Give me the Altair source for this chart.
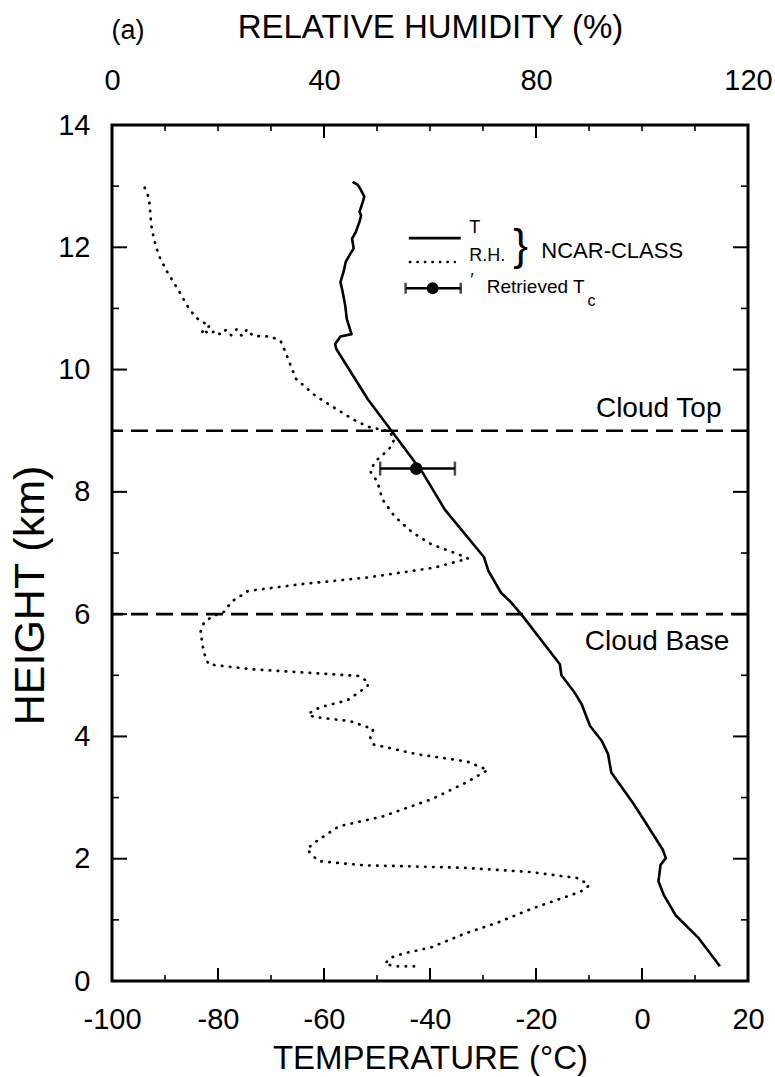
import altair as alt
import pandas as pd

FONT = "Liberation Sans"
W, H = 636, 856

# ---------------- data ----------------
# NCAR-CLASS temperature profile: temperature (°C) and height (km), bottom to top
t_temp = [14.7, 10.7, 6.3, 4.1, 3.1, 3.5, 4.5, 3.9, 0.1, -1.7, -5.8, -6.4, -7.6, -9.8,
          -11.4, -12.9, -15.2, -15.5, -22.8, -25.0, -26.6, -29.0, -29.8, -37.2, -41.5,
          -47.1, -51.7, -57.7, -57.9, -56.9, -54.8, -55.7, -56.0, -56.6, -56.9, -56.3,
          -55.9, -55.0, -54.4, -54.7, -54.0, -53.3, -53.0, -53.3, -52.7, -52.4, -53.0,
          -53.6, -54.6]
t_height = [0.24, 0.70, 1.08, 1.41, 1.63, 1.90, 2.01, 2.15, 2.67, 2.91, 3.41, 3.71, 3.93,
            4.17, 4.53, 4.74, 5.00, 5.18, 6.00, 6.22, 6.35, 6.71, 6.93, 7.71, 8.33, 8.98,
            9.51, 10.34, 10.42, 10.54, 10.58, 10.83, 11.05, 11.32, 11.43, 11.60, 11.76,
            11.90, 11.98, 12.14, 12.25, 12.42, 12.52, 12.58, 12.74, 12.83, 12.93, 13.02,
            13.07]

# NCAR-CLASS relative humidity profile (%) and height (km), bottom to top
rh_value = [57.0, 53.5, 51.5, 52.5, 55.0, 60.2, 66.7, 72.9, 79.1, 88.4, 90.0, 88.1, 79.2,
            66.8, 54.2, 47.9, 39.1, 37.8, 36.8, 38.5, 42.8, 51.0, 60.5, 66.9, 70.9, 67.0,
            57.5, 49.3, 48.7, 49.3, 44.9, 38.0, 37.0, 39.3, 44.4, 48.2, 48.4, 46.4, 35.6,
            26.2, 18.2, 17.3, 16.7, 17.4, 19.1, 21.2, 22.5, 25.7, 35.7, 48.3, 60.8, 67.2,
            65.3, 60.3, 56.6, 53.3, 51.0, 50.1, 48.7, 49.7, 52.3, 53.3, 52.3, 48.5, 46.0,
            42.2, 38.4, 34.7, 32.7, 31.8, 29.9, 26.7,
            26.5, 25.5, 24.5, 23.5, 22.5, 21.5, 20.5, 19.5, 18.5, 17.5, 16.8,
            18.5, 16.5, 14.7, 12.6, 10.4, 8.8, 7.9, 7.4, 7.0, 6.4, 5.8]
rh_height = [0.24, 0.24, 0.28, 0.38, 0.45, 0.55, 0.78, 0.96, 1.18, 1.46, 1.56, 1.68, 1.78,
             1.85, 1.88, 1.89, 1.96, 2.05, 2.16, 2.28, 2.53, 2.69, 2.98, 3.25, 3.45, 3.59,
             3.71, 3.87, 3.99, 4.12, 4.25, 4.32, 4.37, 4.48, 4.59, 4.82, 4.89, 4.99, 5.05,
             5.10, 5.18, 5.38, 5.71, 5.87, 5.97, 6.04, 6.20, 6.38, 6.49, 6.60, 6.76, 6.91,
             6.98, 7.14, 7.34, 7.60, 7.88, 8.16, 8.34, 8.50, 8.70, 8.86, 8.99, 9.06, 9.16,
             9.36, 9.57, 9.85, 10.29, 10.47, 10.54, 10.55,
             10.56, 10.66, 10.55, 10.66, 10.56, 10.65, 10.57, 10.64, 10.58, 10.63, 10.60,
             10.72, 10.80, 10.97, 11.29, 11.60, 11.87, 12.14, 12.36, 12.80, 12.93, 13.04]

# Retrieved cloud temperature with its error bar
tc_value = [-42.6]
tc_low = [-49.4]
tc_high = [-35.3]
tc_height = [8.38]

# cloud boundaries (km)
cloud_names = ["Cloud Top", "Cloud Base"]
cloud_heights = [9.0, 6.0]
cloud_label_temp = [15.0, 16.5]
cloud_label_height = [9.22, 5.42]

# axis tick values
temp_labels = [-100, -80, -60, -40, -20, 0, 20]
temp_major_ticks = [-80, -60, -40, -20, 0]
temp_minor_ticks = [-90, -70, -50, -30, -10, 10]
rh_labels = [0, 40, 80, 120]
rh_major_ticks = [40, 80]
rh_minor_ticks = [10, 20, 30, 50, 60, 70, 90, 100, 110]
height_labels = [0, 2, 4, 6, 8, 10, 12, 14]
height_major_ticks = [2, 4, 6, 8, 10, 12]
height_minor_ticks = [1, 3, 5, 7, 9, 11, 13]

# legend (drawn inside the plot, in temperature/height units)
leg_T_x = [-44.0, -34.2]
leg_T_y = [12.15, 12.15]
leg_RH_x = [-43.8, -35.3]
leg_RH_y = [11.76, 11.76]
leg_err_x = [-44.6, -34.2]
leg_err_y = 11.33
leg_err_dot = -39.5
leg_texts = ["T", "R.H.", "}", "NCAR-CLASS", "\u2032", "Retrieved T", "c"]
leg_text_x = [-32.6, -32.6, -24.3, -19.0, -32.4, -29.3, -10.3]
leg_text_y = [12.32, 11.86, 12.0, 11.94, 11.45, 11.35, 11.12]
leg_text_size = [18, 18, 44, 22, 18, 19, 16]

# ---------------- frames ----------------
t_df = pd.DataFrame({"temp": t_temp, "height": t_height, "order": list(range(len(t_temp)))})
rh_df = pd.DataFrame({"rh": rh_value, "height": rh_height, "order": list(range(len(rh_value)))})
tc_df = pd.DataFrame({"temp": tc_value, "lo": tc_low, "hi": tc_high, "height": tc_height})
cloud_df = pd.DataFrame({"name": cloud_names, "height": cloud_heights,
                         "lx": cloud_label_temp, "ly": cloud_label_height})

common_axis = dict(ticks=False, tickSize=0, domain=False, grid=False,
                   labelFont=FONT, titleFont=FONT, labelFontSize=29, titleFontSize=33,
                   labelColor="black", titleColor="black", titleFontWeight="normal",
                   labelFlush=False, labelExpr="'' + datum.value")

xT = alt.X("temp:Q",
           scale=alt.Scale(domain=[-100, 20], nice=False, zero=False),
           axis=alt.Axis(orient="bottom", values=temp_labels, title="TEMPERATURE (\u00b0C)",
                         labelPadding=24, titlePadding=8, **common_axis))
yH = alt.Y("height:Q",
           scale=alt.Scale(domain=[0, 14], nice=False, zero=False),
           axis=alt.Axis(orient="left", values=height_labels, title="HEIGHT (km)",
                         labelPadding=22, titleFontSize=43, titleAngle=-90,
                         titleAlign="center", titleBaseline="middle", titleX=-82, titleY=470,
                         **{k: v for k, v in common_axis.items() if k != "titleFontSize"}))
xRH = alt.X("rh:Q",
            scale=alt.Scale(domain=[0, 120], nice=False, zero=False),
            axis=alt.Axis(orient="top", values=rh_labels, title="RELATIVE HUMIDITY (%)",
                          labelPadding=30, titlePadding=22, **common_axis))

# ---------------- temperature-scale layers ----------------
t_line = alt.Chart(t_df).mark_line(color="black", strokeWidth=2.6, strokeJoin="round").encode(
    x=xT, y=yH, order="order:Q")

cloud_rules = alt.Chart(cloud_df).mark_rule(color="black", strokeWidth=2.6,
                                            strokeDash=[17, 8]).encode(y=yH)
cloud_text = alt.Chart(cloud_df).mark_text(font=FONT, fontSize=28, align="right",
                                           baseline="alphabetic", color="black").encode(
    x=alt.X("lx:Q", scale=alt.Scale(domain=[-100, 20])),
    y=alt.Y("ly:Q", scale=alt.Scale(domain=[0, 14])),
    text="name:N")

err_rule = alt.Chart(tc_df).mark_rule(color="black", strokeWidth=2.5).encode(
    x=alt.X("lo:Q"), x2="hi:Q", y=yH)
err_caps_lo = alt.Chart(tc_df).mark_tick(color="black", orient="vertical", size=14,
                                         thickness=2.5).encode(x=alt.X("lo:Q"), y=yH)
err_caps_hi = alt.Chart(tc_df).mark_tick(color="black", orient="vertical", size=14,
                                         thickness=2.5).encode(x=alt.X("hi:Q"), y=yH)
err_dot = alt.Chart(tc_df).mark_point(filled=True, color="black", size=160, opacity=1).encode(
    x=xT, y=yH)

# legend
legT_df = pd.DataFrame({"temp": leg_T_x, "height": leg_T_y})
legRH_df = pd.DataFrame({"temp": leg_RH_x, "height": leg_RH_y})
legErr_df = pd.DataFrame({"lo": [leg_err_x[0]], "hi": [leg_err_x[1]],
                          "temp": [leg_err_dot], "height": [leg_err_y]})
legText_df = pd.DataFrame({"label": leg_texts, "temp": leg_text_x, "height": leg_text_y,
                           "fs": leg_text_size})

leg_T = alt.Chart(legT_df).mark_line(color="black", strokeWidth=2.6).encode(x=xT, y=yH)
leg_RH = alt.Chart(legRH_df).mark_line(color="black", strokeWidth=2.4, strokeCap="round",
                                       strokeDash=[0.5, 7]).encode(x=xT, y=yH)
leg_err = alt.Chart(legErr_df).mark_rule(color="black", strokeWidth=2.5).encode(
    x=alt.X("lo:Q"), x2="hi:Q", y=yH)
leg_err_lo = alt.Chart(legErr_df).mark_tick(color="black", orient="vertical", size=11,
                                            thickness=2.5).encode(x=alt.X("lo:Q"), y=yH)
leg_err_hi = alt.Chart(legErr_df).mark_tick(color="black", orient="vertical", size=11,
                                            thickness=2.5).encode(x=alt.X("hi:Q"), y=yH)
leg_dot = alt.Chart(legErr_df).mark_point(filled=True, color="black", size=140,
                                          opacity=1).encode(x=xT, y=yH)
leg_text = alt.Chart(legText_df).mark_text(font=FONT, align="left", baseline="middle",
                                           color="black").encode(
    x=xT, y=yH, text="label:N", size=alt.Size("fs:Q", scale=None, legend=None))

# inward ticks
bt_major = alt.Chart(pd.DataFrame({"temp": temp_major_ticks})).mark_rule(
    color="black", strokeWidth=2).encode(x=xT, y=alt.value(H), y2=alt.value(H - 13))
bt_minor = alt.Chart(pd.DataFrame({"temp": temp_minor_ticks})).mark_rule(
    color="black", strokeWidth=1.6).encode(x=xT, y=alt.value(H), y2=alt.value(H - 6))
lt_major = alt.Chart(pd.DataFrame({"height": height_major_ticks})).mark_rule(
    color="black", strokeWidth=2).encode(y=yH, x=alt.value(0), x2=alt.value(15))
lt_minor = alt.Chart(pd.DataFrame({"height": height_minor_ticks})).mark_rule(
    color="black", strokeWidth=1.6).encode(y=yH, x=alt.value(0), x2=alt.value(7))
rt_major = alt.Chart(pd.DataFrame({"height": height_major_ticks})).mark_rule(
    color="black", strokeWidth=2).encode(y=yH, x=alt.value(W), x2=alt.value(W - 15))
rt_minor = alt.Chart(pd.DataFrame({"height": height_minor_ticks})).mark_rule(
    color="black", strokeWidth=1.6).encode(y=yH, x=alt.value(W), x2=alt.value(W - 7))

panel_label = alt.Chart(pd.DataFrame({"t": ["(a)"]})).mark_text(
    font=FONT, fontSize=27, align="center", baseline="middle", color="black").encode(
    text="t:N", x=alt.value(16), y=alt.value(-94))

t_layers = alt.layer(
    t_line, cloud_rules, cloud_text, err_rule, err_caps_lo, err_caps_hi, err_dot,
    leg_T, leg_RH, leg_err, leg_err_lo, leg_err_hi, leg_dot, leg_text,
    bt_major, bt_minor, lt_major, lt_minor, rt_major, rt_minor, panel_label)

# ---------------- relative-humidity-scale layers ----------------
rh_line = alt.Chart(rh_df).mark_line(color="black", strokeWidth=2.7, strokeCap="round",
                                     strokeDash=[0.5, 7.5]).encode(
    x=xRH, y=yH, order="order:Q")
tt_major = alt.Chart(pd.DataFrame({"rh": rh_major_ticks})).mark_rule(
    color="black", strokeWidth=2).encode(x=xRH, y=alt.value(0), y2=alt.value(13))
tt_minor = alt.Chart(pd.DataFrame({"rh": rh_minor_ticks})).mark_rule(
    color="black", strokeWidth=1.6).encode(x=xRH, y=alt.value(0), y2=alt.value(6))

rh_layers = alt.layer(rh_line, tt_major, tt_minor)

chart = alt.layer(t_layers, rh_layers).resolve_scale(x="independent").properties(
    width=W, height=H,
    padding={"left": 112, "top": 125, "right": 775 - 112 - W, "bottom": 1077 - 125 - H},
    autosize=alt.AutoSizeParams(type="none"),
    background="white",
).configure_view(stroke="black", strokeWidth=3)

chart.save("out.html", embed_options={"renderer": "svg", "actions": False})
